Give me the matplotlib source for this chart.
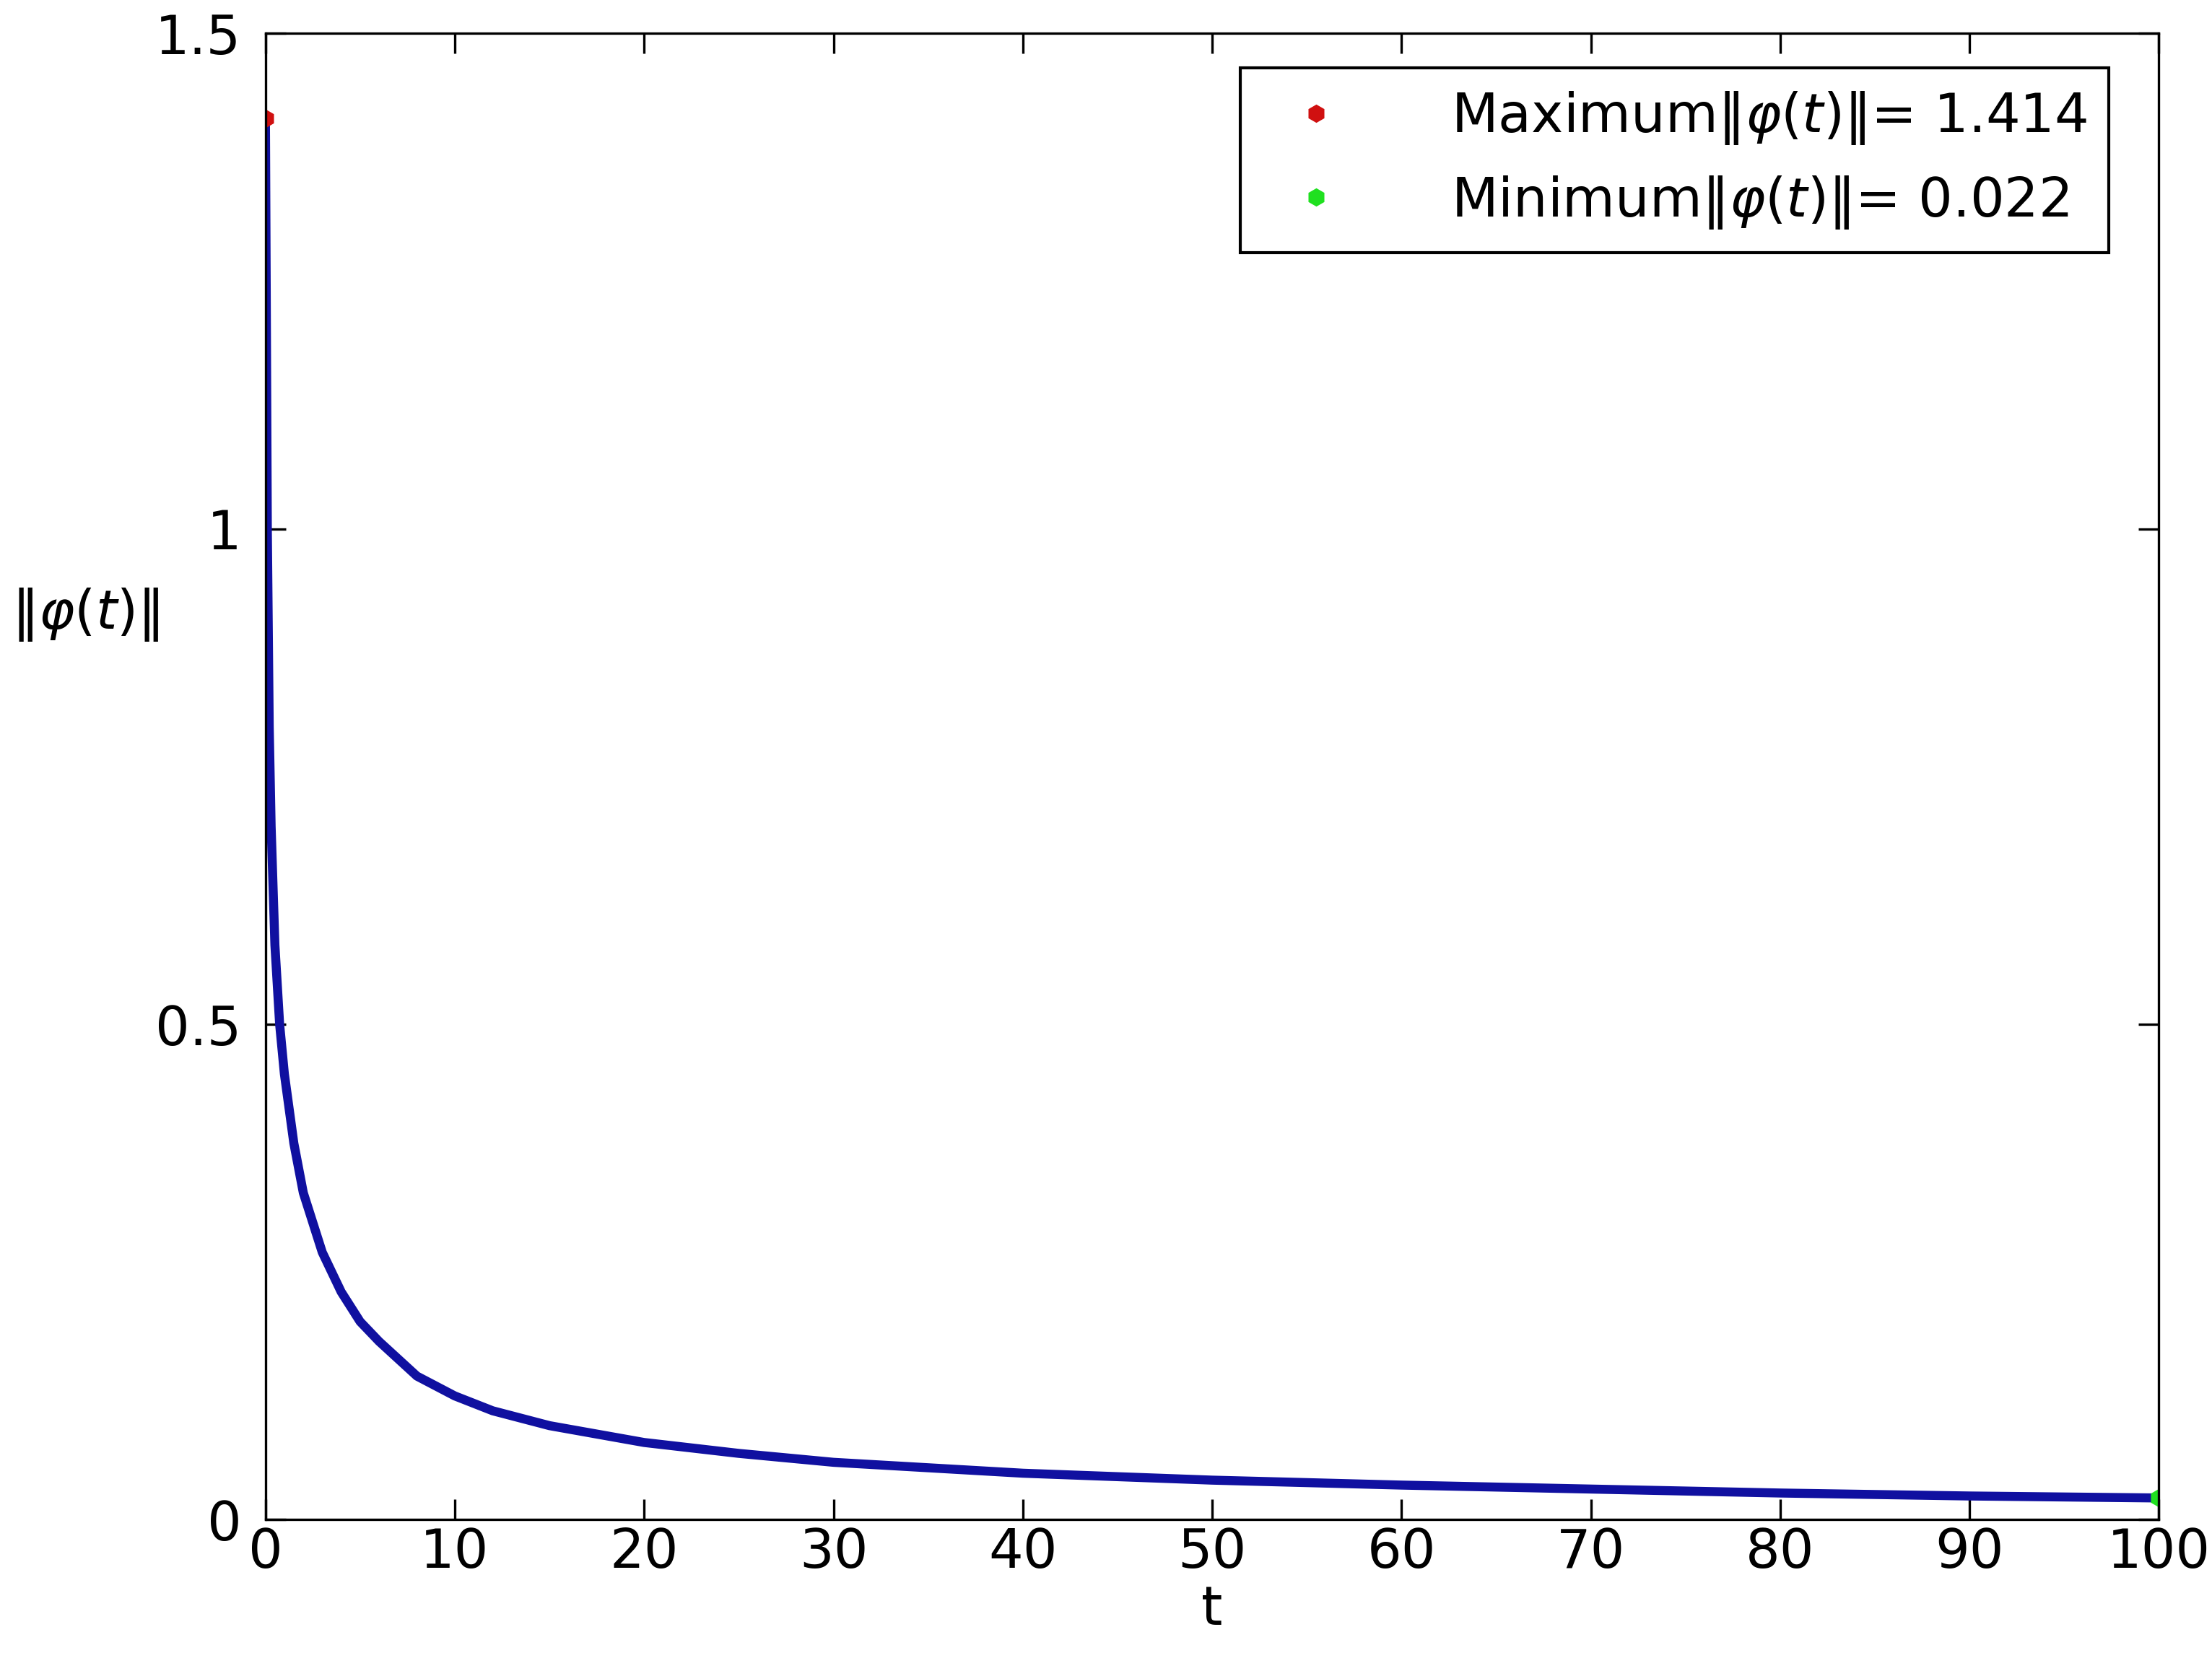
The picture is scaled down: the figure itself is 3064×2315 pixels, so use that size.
import matplotlib
matplotlib.use("Agg")
import matplotlib.pyplot as plt
import numpy as np

# values
t_vals = [0, 0.1, 0.2, 0.3, 0.5, 0.75, 1, 1.5, 2, 3, 4, 5, 6, 8, 10, 12, 15, 20, 25, 30,
          40, 50, 60, 70, 80, 90, 100]
phi_vals = [1.414, 1.0, 0.8, 0.7, 0.58, 0.5, 0.45, 0.38, 0.33, 0.27, 0.23, 0.2, 0.18,
            0.145, 0.125, 0.11, 0.095, 0.078, 0.067, 0.058, 0.047, 0.04, 0.035, 0.031,
            0.027, 0.024, 0.022]
max_pt = (0, 1.414)
min_pt = (100, 0.022)

fs = 27
fig = plt.figure(figsize=(15.32, 11.575), dpi=200)
ax = fig.add_axes([0.120, 0.0905, 0.856, 0.8895])
ax.plot(t_vals, phi_vals, color="#1010a0", lw=4.5)
ax.plot(*max_pt, "h", color="#d01010", ms=8, ls="none",
        label=r"Maximum$\|\varphi(t)\|$= 1.414")
ax.plot(*min_pt, "h", color="#20e020", ms=8, ls="none",
        label=r"Minimum$\|\varphi(t)\|$= 0.022")

ax.set_xlim(0, 100)
ax.set_ylim(0, 1.5)
ax.set_xticks(np.arange(0, 101, 10))
ax.set_yticks([0, 0.5, 1, 1.5])
ax.set_yticklabels(["0", "0.5", "1", "1.5"])
ax.tick_params(direction="in", top=True, right=True, labelsize=fs, length=10, width=1.2)
ax.tick_params(axis="y", pad=12)
ax.set_xlabel("t", fontsize=fs, labelpad=2)
ax.set_ylabel(r"$\|\varphi(t)\|$", fontsize=fs, rotation=0, labelpad=5)
ax.yaxis.set_label_coords(-0.095, 0.59)
for s in ax.spines.values():
    s.set_linewidth(1.2)

leg = ax.legend(loc="upper right", fontsize=fs, fancybox=False, edgecolor="black",
                framealpha=1, handletextpad=1.5, borderpad=0.4,
                bbox_to_anchor=(0.988, 0.995))
leg.get_frame().set_linewidth(1.5)

fig.savefig("out.png")
